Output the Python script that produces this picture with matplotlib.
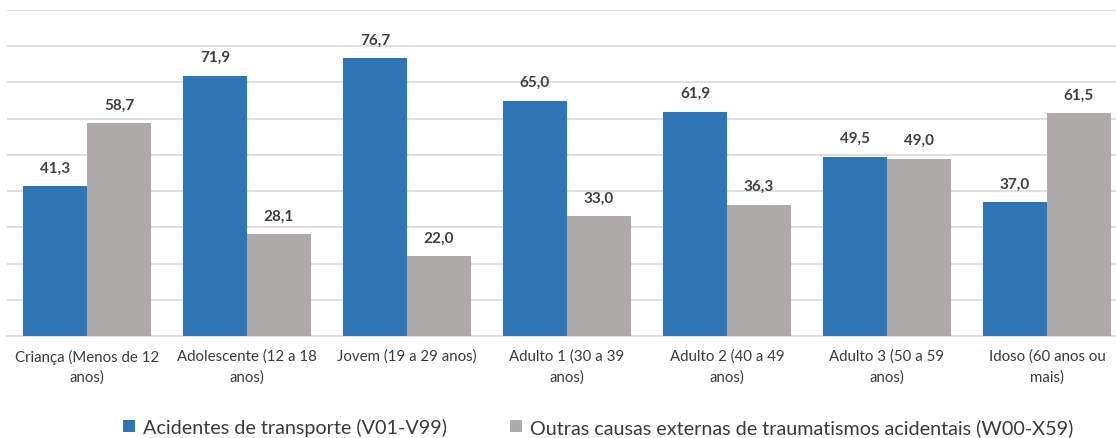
import numpy as np
import matplotlib.pyplot as plt

# faixas etárias e proporções (%) por tipo de causa
categorias = ["Criança (Menos de 12\nanos)", "Adolescente (12 a 18\nanos)",
              "Jovem (19 a 29 anos)", "Adulto 1 (30 a 39\nanos)",
              "Adulto 2 (40 a 49\nanos)", "Adulto 3 (50 a 59\nanos)",
              "Idoso (60 anos ou\nmais)"]
transporte = [41.3, 71.9, 76.7, 65.0, 61.9, 49.5, 37.0]
outras = [58.7, 28.1, 22.0, 33.0, 36.3, 49.0, 61.5]
legenda = ["Acidentes de transporte (V01-V99)",
           "Outras causas externas de traumatismos acidentais (W00-X59)"]

plt.rcParams['font.family'] = ['Lato', 'DejaVu Sans']

azul = '#2E75B6'
cinza = '#AEAAAA'

fig = plt.figure(figsize=(11.16, 4.39), dpi=100)
ax = fig.add_axes([7 / 1116, 1 - 337 / 439, 1120 / 1116, 326 / 439])

x = np.arange(len(categorias))
w = 0.4
b1 = ax.bar(x - w / 2, transporte, w, color=azul, label=legenda[0], zorder=3)
b2 = ax.bar(x + w / 2, outras, w, color=cinza, label=legenda[1], zorder=3)

def fmt(v):
    return f"{v:.1f}".replace('.', ',')

for barras, vals in ((b1, transporte), (b2, outras)):
    for r, v in zip(barras, vals):
        ax.text(r.get_x() + r.get_width() / 2, v + 3.2, fmt(v), ha='center',
                va='bottom', fontsize=11, fontweight='bold', color='#404040')

ax.set_xlim(-0.5, 6.5)
ax.set_ylim(0, 90)
ax.set_yticks(np.arange(0, 91, 10))
ax.yaxis.grid(True, color='#D9D9D9', linewidth=1.2, zorder=0)
ax.tick_params(axis='y', left=False, labelleft=False)
ax.tick_params(axis='x', length=0, pad=9, labelsize=10.8, labelcolor='#3A3A3A')
ax.set_xticks(x)
ax.set_xticklabels(categorias, linespacing=1.55)
for s in ['top', 'right', 'left']:
    ax.spines[s].set_visible(False)
ax.spines['bottom'].set_color('#D9D9D9')
ax.spines['bottom'].set_linewidth(1.2)

fig.legend(handles=[b1, b2], labels=legenda, loc='center',
           bbox_to_anchor=(0.536, 1 - 428 / 439), ncol=2, frameon=False,
           fontsize=14.2, labelcolor='#3A3A3A', handlelength=0.6,
           handleheight=0.6, handletextpad=0.4, columnspacing=3.2)

fig.savefig('out.png', dpi=100)
